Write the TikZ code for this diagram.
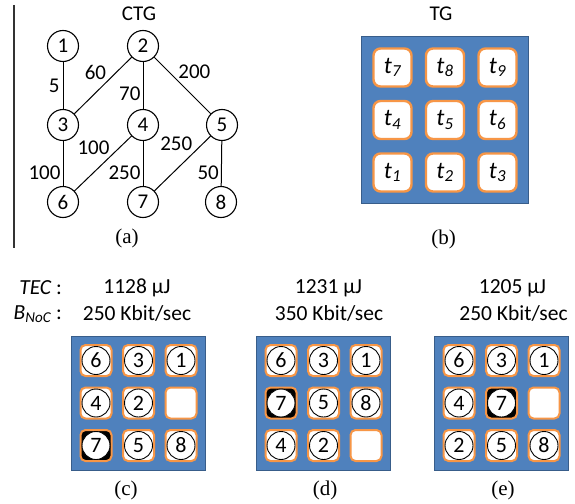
\documentclass[tikz,border=0pt]{standalone}
\usepackage{fontspec}
\setmainfont{Liberation Serif}
\newfontfamily\carl{Carlito}
\definecolor{nocblue}{HTML}{4F81BD}
\definecolor{nocedge}{HTML}{385D8A}
\definecolor{tileor}{HTML}{F79646}
\begin{document}
\begin{tikzpicture}[x=1pt,y=-1pt,
  sf/.style={font=\carl\fontsize{21}{23}\selectfont},
  vert/.style={circle,draw,line width=1.1pt,minimum size=31pt,inner sep=0pt,sf},
  elbl/.style={sf,inner sep=1pt},
  subcap/.style={font=\fontsize{21}{23}\selectfont},
  board/.style={draw=nocedge,fill=nocblue,line width=1.2pt},
  bigtile/.style={draw=tileor,fill=white,rounded corners=7pt,line width=2.4pt,minimum size=38pt,inner sep=0pt,font=\carl\itshape\fontsize{24}{24}\selectfont},
  wt/.style={draw=tileor,fill=white,rounded corners=5pt,line width=2pt,minimum size=31pt,inner sep=0pt},
  kt/.style={wt,fill=black},
  taskc/.style={circle,draw,fill=white,line width=0.9pt,minimum size=28pt,inner sep=0pt,font=\carl\fontsize{22}{22}\selectfont},
  txt/.style={font=\carl\fontsize{21.5}{23}\selectfont,inner sep=0pt}]
\useasboundingbox (0,0) rectangle (575,503);
% separator line
\draw[line width=1.3pt,black!80] (14,5) coordinate (sepa) -- (14,248) coordinate (sepb);
% (a) CTG
\node[sf] (ctg) at (139,14) {CTG};
\node[vert] (n1) at (63,46) {1};
\node[vert] (n2) at (143,46) {2};
\node[vert] (n3) at (63,125) {3};
\node[vert] (n4) at (143,125) {4};
\node[vert] (n5) at (222,125) {5};
\node[vert] (n6) at (63,202) {6};
\node[vert] (n7) at (143,202) {7};
\node[vert] (n8) at (221,202) {8};
\begin{scope}[line width=1pt]
\draw (n1) -- node[elbl,left=2pt,pos=0.5] {5} (n3);
\draw (n2) -- node[elbl,anchor=south east,pos=0.42] {60} (n3);
\draw (n2) -- node[elbl,left=1pt,pos=0.68] {70} (n4);
\draw (n2) -- node[elbl,anchor=south west,pos=0.4] {200} (n5);
\draw (n4) -- node[elbl,anchor=south east,pos=0.36] {100} (n6);
\draw (n5) -- node[elbl,anchor=south east,pos=0.3] {250} (n7);
\draw (n3) -- node[elbl,left=1pt,pos=0.7] {100} (n6);
\draw (n4) -- node[elbl,left=1pt,pos=0.7] {250} (n7);
\draw (n5) -- node[elbl,left=1pt,pos=0.7] {50} (n8);
\end{scope}
\node[subcap] (capa) at (127,238) {(a)};
% (b) TG
\node[sf] (tg) at (441,14) {TG};
\node[board,minimum size=167pt] (tgb) at (445,120) {};
\foreach \i/\j/\t in {1/1/7,2/1/8,3/1/9,1/2/4,2/2/5,3/2/6,1/3/1,2/3/2,3/3/3}{
  \node[bigtile] (tg\i\j) at ({445+52.5*(\i-2)},{120+52.5*(\j-2)}) {t\textsubscript{\t}};
}
\node[subcap] (capb) at (443.5,239) {(b)};
% headers
\node[txt,anchor=east] (teclbl) at (62,288) {\itshape TEC\upshape\ :};
\node[txt,anchor=east] (bnoclbl) at (62,314) {\itshape B\textsubscript{NoC}\upshape\ :};
\node[txt] (ctec) at (137,288) {1128 µJ};
\node[txt] (cbw) at (137,313) {250 Kbit/sec};
\node[txt] (dtec) at (328.5,288) {1231 µJ};
\node[txt] (dbw) at (329,313) {350 Kbit/sec};
\node[txt] (etec) at (512.5,288) {1205 µJ};
\node[txt] (ebw) at (513.5,313) {250 Kbit/sec};
% (c)
\node[board,minimum size=134pt] (cb) at (138.5,403.5) {};
\foreach \i/\j/\v/\s in {1/1/6/wt,2/1/3/wt,3/1/1/wt,1/2/4/wt,2/2/2/wt,1/3/7/kt,2/3/5/wt,3/3/8/wt}{
  \node[\s] (c\i\j) at ({138.5+42.5*(\i-2)},{403+42.5*(\j-2)}) {};
  \node[taskc] (c\i\j n) at (c\i\j) {\v};
}
\node[wt] (c32) at ({138.5+42.5},403) {};
\node[subcap] (capc) at (126,490) {(c)};
% (d)
\node[board,minimum size=134pt] (db) at (323.5,403.5) {};
\foreach \i/\j/\v/\s in {1/1/6/wt,2/1/3/wt,3/1/1/wt,1/2/7/kt,2/2/5/wt,3/2/8/wt,1/3/4/wt,2/3/2/wt}{
  \node[\s] (d\i\j) at ({323.5+42.5*(\i-2)},{403+42.5*(\j-2)}) {};
  \node[taskc] (d\i\j n) at (d\i\j) {\v};
}
\node[wt] (d33) at ({323.5+42.5},{403+42.5}) {};
\node[subcap] (capd) at (325,490) {(d)};
% (e)
\node[board,minimum size=134pt] (eb) at (501.5,403.5) {};
\foreach \i/\j/\v/\s in {1/1/6/wt,2/1/3/wt,3/1/1/wt,1/2/4/wt,2/2/7/kt,1/3/2/wt,2/3/5/wt,3/3/8/wt}{
  \node[\s] (e\i\j) at ({501.5+42.5*(\i-2)},{403+42.5*(\j-2)}) {};
  \node[taskc] (e\i\j n) at (e\i\j) {\v};
}
\node[wt] (e32) at ({501.5+42.5},403) {};
\node[subcap] (cape) at (503,490) {(e)};
\end{tikzpicture}
\end{document}
